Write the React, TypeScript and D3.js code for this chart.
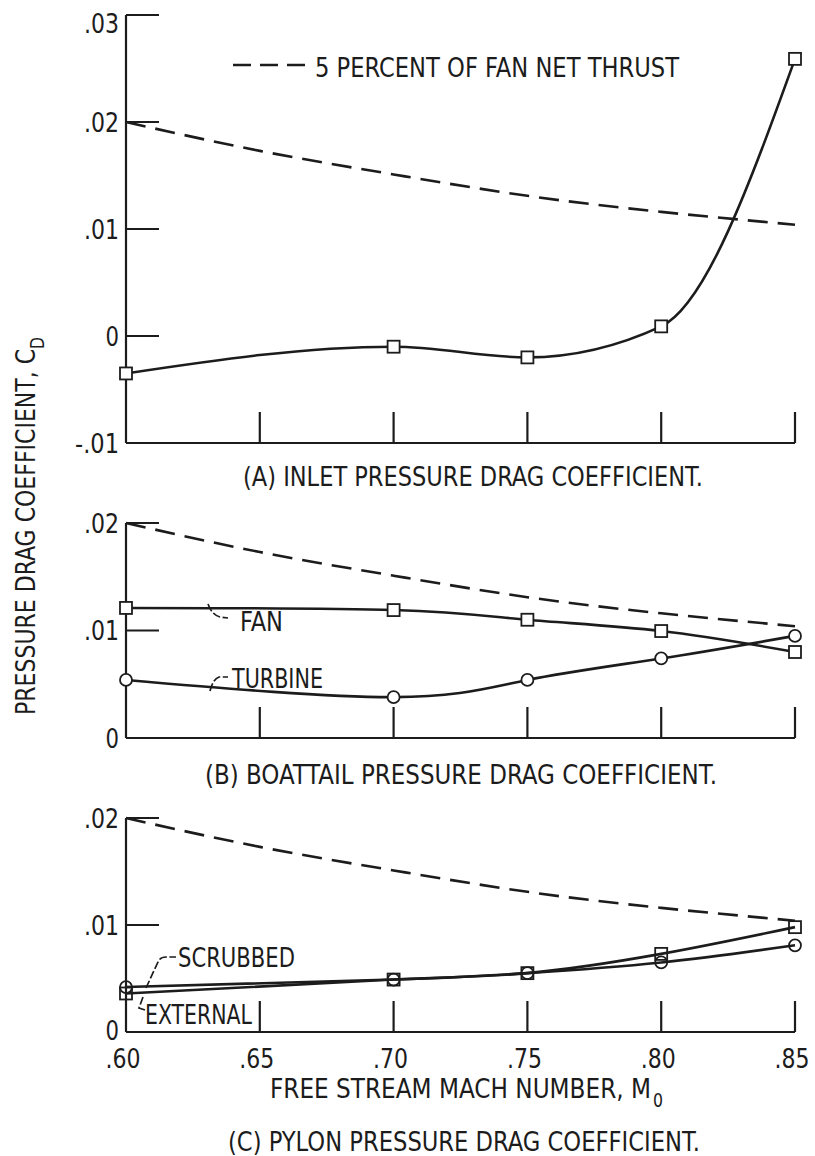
import React from "react";
import * as d3 from "d3";

// Free-stream Mach numbers shared by every panel
const machTicks = [0.6, 0.65, 0.7, 0.75, 0.8, 0.85];
const machTickLabels = [".60", ".65", ".70", ".75", ".80", ".85"];

// Reference line: 5 percent of fan net thrust, expressed as C_D
const fivePercentThrustCd = [0.02, 0.0173, 0.0151, 0.0131, 0.0116, 0.0104];

// Test points
const testMach = [0.6, 0.7, 0.75, 0.8, 0.85];
const inletCd = [-0.0035, -0.001, -0.002, 0.0009, 0.0259];
const fanBoattailCd = [0.0121, 0.0119, 0.011, 0.00995, 0.008];
const turbineBoattailCd = [0.0054, 0.0038, 0.0054, 0.0074, 0.0095];
const scrubbedPylonCd = [0.0042, 0.0049, 0.0055, 0.0065, 0.0081];
const externalPylonCd = [0.0036, 0.0049, 0.0055, 0.0073, 0.0098];

// Vertical axis ticks
const inletTicks = [0.03, 0.02, 0.01, 0, -0.01];
const inletTickLabels = [".03", ".02", ".01", "0", "-.01"];
const lowerTicks = [0.02, 0.01, 0];
const lowerTickLabels = [".02", ".01", "0"];

const W = 815;
const H = 1156;
const INK = "#1c1c1c";
const FONT = "'DejaVu Sans Condensed', 'Liberation Sans Narrow', 'DejaVu Sans', sans-serif";

const x = d3.scaleLinear().domain([0.6, 0.85]).range([126, 795]);
const yA = d3.scaleLinear().domain([-0.01, 0.03]).range([443, 15]);
const yB = d3.scaleLinear().domain([0, 0.02]).range([738, 523]);
const yC = d3.scaleLinear().domain([0, 0.02]).range([1032, 818]);

type Scale = d3.ScaleLinear<number, number>;

// Narrow numeric lettering: fixed advance per glyph
const numWidth = (s: string) =>
  Array.from(s).reduce((w, c) => w + (c === "." ? 8 : c === "-" ? 9 : 13.5), 0);

function Txt(props: {
  x: number;
  y: number;
  len?: number;
  size?: number;
  anchor?: string;
  children: React.ReactNode;
}) {
  const { len, size = 26, anchor = "start" } = props;
  return (
    <text
      x={props.x}
      y={props.y}
      fontSize={size}
      textAnchor={anchor}
      fill={INK}
      fontFamily={FONT}
      {...(len ? { textLength: len, lengthAdjust: "spacingAndGlyphs" } : {})}
    >
      {props.children}
    </text>
  );
}

function Frame(props: {
  y: Scale;
  ticks: number[];
  labels: string[];
  topLabelShift?: number;
  bottomLabelShift?: number;
}) {
  const { y, ticks, labels, topLabelShift = 0, bottomLabelShift = 0 } = props;
  const [lo, hi] = y.domain();
  const x0 = x(0.6);
  const x1 = x(0.85);
  const yb = y(lo);
  return (
    <g stroke={INK} strokeWidth={2.2} fill="none">
      <line x1={x0} x2={x0} y1={y(hi)} y2={yb} />
      <line x1={x0} x2={x1} y1={yb} y2={yb} />
      {ticks
        .filter((t) => t !== lo)
        .map((t) => (
          <line key={"yt" + t} x1={x0} x2={x0 + 33} y1={y(t)} y2={y(t)} />
        ))}
      {machTicks.slice(1).map((m) => (
        <line key={"xt" + m} x1={x(m)} x2={x(m)} y1={yb} y2={yb - 31} />
      ))}
      <g stroke="none">
        {ticks.map((t, i) => (
          <Txt
            key={"yl" + t}
            x={119 - numWidth(labels[i])}
            y={y(t) + 9.5 + (t === hi ? topLabelShift : 0) + (t === lo ? bottomLabelShift : 0)}
            len={numWidth(labels[i])}
          >
            {labels[i]}
          </Txt>
        ))}
      </g>
    </g>
  );
}

function Curve(props: {
  y: Scale;
  xs: number[];
  ys: number[];
  curve: d3.CurveFactory;
  dashed?: boolean;
}) {
  const pts = props.xs.map((m, i) => [m, props.ys[i]] as [number, number]);
  const gen = d3
    .line<[number, number]>()
    .x((d) => x(d[0]))
    .y((d) => props.y(d[1]))
    .curve(props.curve);
  return (
    <path
      d={gen(pts) || ""}
      fill="none"
      stroke={INK}
      strokeWidth={2.6}
      strokeDasharray={props.dashed ? "20 10" : undefined}
    />
  );
}

function Markers(props: { y: Scale; xs: number[]; ys: number[]; shape: "square" | "circle"; fill: string }) {
  const s = 12;
  return (
    <g stroke={INK} strokeWidth={1.8} fill={props.fill}>
      {props.xs.map((m, i) =>
        props.shape === "square" ? (
          <rect key={i} x={x(m) - s / 2} y={props.y(props.ys[i]) - s / 2} width={s} height={s} />
        ) : (
          <circle key={i} cx={x(m)} cy={props.y(props.ys[i])} r={6} />
        )
      )}
    </g>
  );
}

function Leader(props: { d: string }) {
  return <path d={props.d} fill="none" stroke={INK} strokeWidth={1.7} strokeDasharray="8 2.5" />;
}

export default function App() {
  return (
    <svg
      width={W}
      height={H}
      viewBox={`0 0 ${W} ${H}`}
      style={{ position: "absolute", left: 0, top: 0, background: "#fff" }}
    >
      <rect width={W} height={H} fill="#fff" />

      {/* Y-axis title shared by the three panels */}
      <g transform="translate(35,715) rotate(-90)">
        <Txt x={0} y={0} len={378} size={27}>
          PRESSURE DRAG COEFFICIENT, C<tspan dy={9} fontSize={19}>D</tspan>
        </Txt>
      </g>

      {/* (A) Inlet */}
      <Frame y={yA} ticks={inletTicks} labels={inletTickLabels} topLabelShift={8} />
      <Curve y={yA} xs={machTicks} ys={fivePercentThrustCd} curve={d3.curveNatural} dashed />
      <Curve y={yA} xs={testMach} ys={inletCd} curve={d3.curveMonotoneX} />
      <Markers y={yA} xs={testMach} ys={inletCd} shape="square" fill="#fff" />
      <line x1={233} x2={305} y1={65} y2={65} stroke={INK} strokeWidth={2.6} strokeDasharray="18 9" />
      <Txt x={315} y={77} len={364}>5 PERCENT OF FAN NET THRUST</Txt>
      <Txt x={243} y={486} len={460}>(A) INLET PRESSURE DRAG COEFFICIENT.</Txt>

      {/* (B) Boattail */}
      <Frame y={yB} ticks={lowerTicks} labels={lowerTickLabels} />
      <Curve y={yB} xs={machTicks} ys={fivePercentThrustCd} curve={d3.curveNatural} dashed />
      <Curve y={yB} xs={testMach} ys={fanBoattailCd} curve={d3.curveNatural} />
      <Curve y={yB} xs={testMach} ys={turbineBoattailCd} curve={d3.curveNatural} />
      <Markers y={yB} xs={testMach} ys={fanBoattailCd} shape="square" fill="#fff" />
      <Markers y={yB} xs={testMach} ys={turbineBoattailCd} shape="circle" fill="#fff" />
      <Leader d="M208,604 Q212,615 220,617 L228,618" />
      <Txt x={240} y={631} len={43}>FAN</Txt>
      <Leader d="M210,691 Q213,679 219,677 L228,677" />
      <Txt x={232} y={688} len={91}>TURBINE</Txt>
      <Txt x={205} y={784} len={512}>(B) BOATTAIL PRESSURE DRAG COEFFICIENT.</Txt>

      {/* (C) Pylon */}
      <Frame y={yC} ticks={lowerTicks} labels={lowerTickLabels} bottomLabelShift={-2} />
      <Curve y={yC} xs={machTicks} ys={fivePercentThrustCd} curve={d3.curveNatural} dashed />
      <Curve y={yC} xs={testMach} ys={scrubbedPylonCd} curve={d3.curveNatural} />
      <Curve y={yC} xs={testMach} ys={externalPylonCd} curve={d3.curveNatural} />
      <Markers y={yC} xs={testMach} ys={scrubbedPylonCd} shape="circle" fill="none" />
      <Markers y={yC} xs={testMach} ys={externalPylonCd} shape="square" fill="none" />
      <Leader d="M146,988 L158,962 Q160,957 166,957 L176,957" />
      <Txt x={178} y={967} len={117}>SCRUBBED</Txt>
      <Leader d="M143,997 L139,1008 L145,1010" />
      <Txt x={145} y={1024} len={107}>EXTERNAL</Txt>

      {machTicks.map((m, i) => {
        const w = numWidth(machTickLabels[i]);
        return (
          <Txt key={m} x={x(m) - 3 - w / 2} y={1068} len={w}>
            {machTickLabels[i]}
          </Txt>
        );
      })}
      <Txt x={270} y={1098} len={381}>
        FREE STREAM MACH NUMBER, M
      </Txt>
      <Txt x={653} y={1107} size={19} len={10}>
        0
      </Txt>
      <Txt x={228} y={1151} len={472}>(C) PYLON PRESSURE DRAG COEFFICIENT.</Txt>
    </svg>
  );
}
